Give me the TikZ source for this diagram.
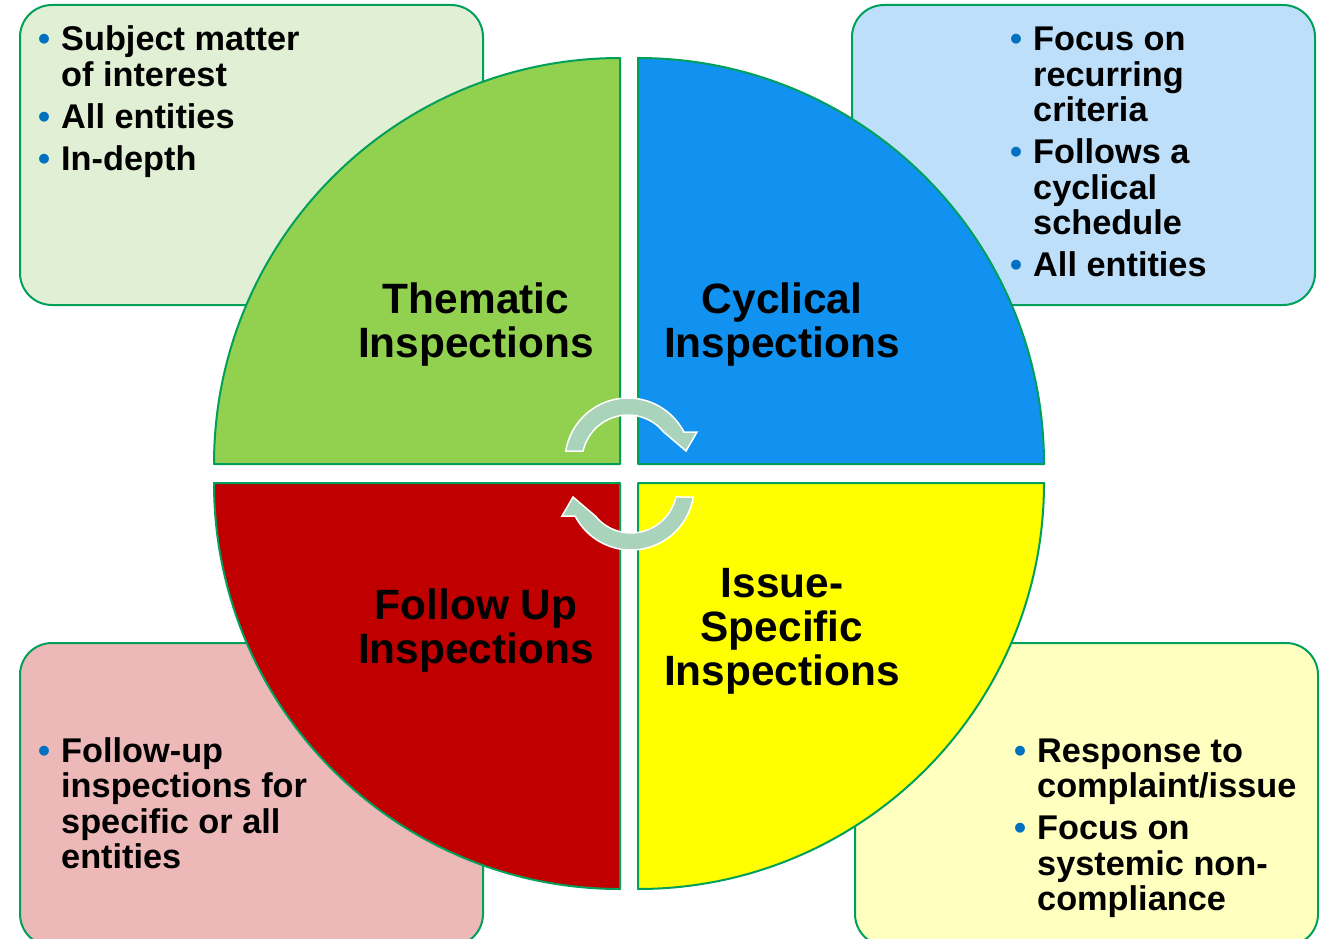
\documentclass[tikz,border=0pt]{standalone}
\usepackage{fontspec}
\setmainfont{Liberation Sans}
\definecolor{bord}{HTML}{00A05A}
\definecolor{tlfill}{HTML}{E1F0D4}
\definecolor{trfill}{HTML}{BDDFF9}
\definecolor{blfill}{HTML}{EDB9B8}
\definecolor{brfill}{HTML}{FFFFBF}
\definecolor{qgreen}{HTML}{92D050}
\definecolor{qblue}{HTML}{1192F0}
\definecolor{qred}{HTML}{C00000}
\definecolor{qyellow}{HTML}{FFFF00}
\definecolor{bul}{HTML}{0070C0}
\definecolor{arrowfill}{HTML}{A9D3BB}
\newlength\bind
\setlength\bind{24pt}
\newcommand\bitem[1]{\par\hangindent=\bind\hangafter=1\noindent\makebox[\bind][l]{\kern1pt\textcolor{bul}{•}}#1}
\newcommand\blist[1]{\vtop{\hsize=360pt\parindent=0pt\parskip=6.5pt #1}}
\newcommand\qlabel[1]{\vtop{\hsize=320pt\parindent=0pt\parskip=0pt\centering #1}}
\newcommand\cycarrow{(-62.2,10) arc[start angle=170.87, end angle=27.4, radius=63] -- (69,29) -- (58,10) -- (35.7,29) arc[start angle=39.1, end angle=167.44, radius=46] -- cycle}
\begin{document}
\begin{tikzpicture}[x=1pt,y=-1pt,
  infobox/.style={draw=bord, line width=2pt, rounded corners=32pt},
  quad/.style={draw=bord, line width=2pt, line join=round},
  cyc/.style={fill=arrowfill, draw=white, line width=1.5pt},
  txt/.style={inner sep=0pt, anchor=base west, font=\bfseries\fontsize{34.3}{35.5}\selectfont},
  lab/.style={inner sep=0pt, anchor=base, font=\bfseries\fontsize{42.4}{44}\selectfont}]
\useasboundingbox (0,0) rectangle (1327,939);
\clip (0,0) rectangle (1327,939);
% info boxes
\path[infobox, fill=tlfill] (20,5) rectangle (483,305);
\path[infobox, fill=trfill] (852,5) rectangle (1315,305);
\path[infobox, fill=blfill] (20,643) rectangle (483,946);
\path[infobox, fill=brfill] (855,643) rectangle (1318,946);
% quadrants
\path[quad, fill=qgreen] (620,464) -- (214,464) arc[start angle=180, end angle=270, radius=406] -- cycle;
\path[quad, fill=qblue] (638,464) -- (638,58) arc[start angle=270, end angle=360, radius=406] -- cycle;
\path[quad, fill=qred] (620,483) -- (214,483) arc[start angle=180, end angle=90, radius=406] -- cycle;
\path[quad, fill=qyellow] (638,483) -- (1044,483) arc[start angle=0, end angle=90, radius=406] -- cycle;
% circular arrows
\begin{scope}[shift={(628,461)}, yscale=-1]
  \path[cyc] \cycarrow;
\end{scope}
\begin{scope}[shift={(631,487)}, xscale=-1]
  \path[cyc] \cycarrow;
\end{scope}
% quadrant labels
\node[lab] (them) at (476,313) {\qlabel{Thematic\\Inspections}};
\node[lab] (cycl) at (782,313) {\qlabel{Cyclical\\Inspections}};
\node[lab] (foll) at (476,619) {\qlabel{Follow Up\\Inspections}};
\node[lab] (issu) at (782,597) {\qlabel{Issue-\\Specific\\Inspections}};
% box texts
\node[txt] (tltext) at (37,51) {\blist{\bitem{Subject matter\newline of interest}\bitem{All entities}\bitem{In-depth}}};
\node[txt] (trtext) at (1009,51) {\blist{\bitem{Focus on\newline recurring\newline criteria}\bitem{Follows a\newline cyclical\newline schedule}\bitem{All entities}}};
\node[txt] (bltext) at (37,762) {\blist{\bitem{Follow-up\newline inspections for\newline specific or all\newline entities}}};
\node[txt] (brtext) at (1013,762) {\blist{\bitem{Response to\newline complaint/issue}\bitem{Focus on\newline systemic non-\newline compliance}}};
\end{tikzpicture}
\end{document}
